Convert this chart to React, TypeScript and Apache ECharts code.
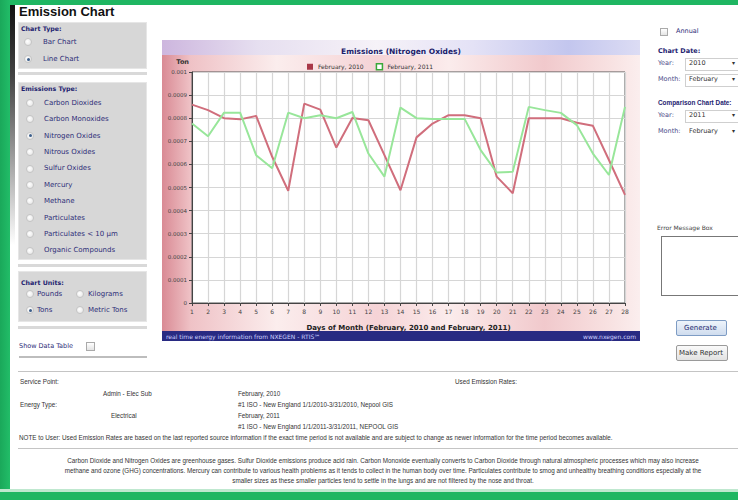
import React, { useEffect, useRef } from "react";
import * as echarts from "echarts";

const days = ["1","2","3","4","5","6","7","8","9","10","11","12","13","14","15","16","17","18","19","20","21","22","23","24","25","26","27","28"];
const feb2010 = [0.000859,0.000835,0.0008,0.000795,0.00081,0.000633,0.000486,0.000863,0.000837,0.000673,0.000801,0.000791,0.00064,0.000488,0.000717,0.000777,0.000813,0.000813,0.0008,0.000547,0.000475,0.0008,0.0008,0.0008,0.00078,0.000767,0.000619,0.000468];
const feb2011 = [0.000777,0.000722,0.000824,0.000824,0.00064,0.000583,0.000824,0.0008,0.000813,0.0008,0.000827,0.000647,0.000547,0.000846,0.0008,0.000797,0.000797,0.000797,0.000662,0.000565,0.000568,0.000849,0.000835,0.000823,0.00077,0.000647,0.000554,0.000849];
const seriesNames = ["February, 2010", "February, 2011"];
const emissionTypes = ["Carbon Dioxides","Carbon Monoxides","Nitrogen Oxides","Nitrous Oxides","Sulfur Oxides","Mercury","Methane","Particulates","Particulates < 10 \u03bcm","Organic Compounds"];

const SANS = "'Liberation Sans', Arial, sans-serif";
const VERD = "'DejaVu Sans', Verdana, sans-serif";
const NAVY = "#2e2e78";

function T(props: any) {
  const { x, y, size = 7, color = "#333", bold, family = SANS, children, style } = props;
  return (
    <div style={{ position: "absolute", left: x, top: y - size * 0.6, fontSize: size, lineHeight: size * 1.2 + "px", whiteSpace: "nowrap", color, fontWeight: bold ? "bold" : "normal", fontFamily: family, ...style }}>
      {children}
    </div>
  );
}

function Box(props: any) {
  const { x, y, w, h, style } = props;
  return <div style={{ position: "absolute", left: x, top: y, width: w, height: h, boxSizing: "border-box", ...style }} />;
}

function Radio(props: any) {
  const { x, y, on } = props;
  return (
    <div style={{ position: "absolute", left: x, top: y - 4, width: 8, height: 8, borderRadius: 4, boxSizing: "border-box", border: "1px solid #c4c4c4", background: "radial-gradient(circle at 40% 40%, #ffffff, #e2e2e2)" }}>
      {on ? <div style={{ position: "absolute", left: 1.5, top: 1.5, width: 3, height: 3, borderRadius: 2, background: "#3d5f8a" }} /> : null}
    </div>
  );
}

function Chart() {
  const ref = useRef<HTMLDivElement>(null);
  useEffect(() => {
    if (!ref.current) return;
    const chart = echarts.init(ref.current, undefined, { renderer: "svg" });
    chart.setOption({
      animation: false,
      backgroundColor: "transparent",
      title: {
        text: "Emissions (Nitrogen Oxides)",
        left: "center",
        top: 2,
        textStyle: { fontSize: 7.5, fontWeight: "bold", color: "#1c1c6a", fontFamily: VERD },
      },
      legend: {
        left: 140,
        top: 18,
        itemWidth: 6,
        itemHeight: 6,
        itemGap: 12,
        textStyle: { fontSize: 6, color: "#333", fontFamily: VERD },
        data: [
          { name: seriesNames[0], icon: "rect", itemStyle: { color: "#a83848" } },
          { name: seriesNames[1], icon: "rect", itemStyle: { color: "#ffffff", borderColor: "#3aa83a", borderWidth: 1.5 } },
        ],
      },
      grid: { left: 30, right: 15, top: 32, bottom: 38, show: true, backgroundColor: "#ffffff", borderColor: "#555", borderWidth: 1 },
      xAxis: {
        type: "category",
        data: days,
        boundaryGap: false,
        name: "Days of Month (February, 2010 and February, 2011)",
        nameLocation: "middle",
        nameGap: 21,
        nameTextStyle: { fontSize: 7, fontWeight: "bold", color: "#222", fontFamily: VERD },
        axisLine: { lineStyle: { color: "#444" } },
        axisTick: { show: true, length: 3, lineStyle: { color: "#444" } },
        axisLabel: { fontSize: 6, color: "#444", margin: 5, interval: 0, fontFamily: VERD },
        splitLine: { show: true, lineStyle: { color: "#d6d6d6", width: 1.2 } },
      },
      yAxis: {
        type: "value",
        min: 0,
        max: 0.001,
        interval: 0.0001,
        name: "Ton",
        nameLocation: "end",
        nameGap: 7,
        nameTextStyle: { fontSize: 6.5, fontWeight: "bold", color: "#333", align: "right", padding: [0, 3, 0, 0], fontFamily: VERD },
        axisLine: { show: true, lineStyle: { color: "#444" } },
        axisTick: { show: true, length: 3, lineStyle: { color: "#444" } },
        axisLabel: { fontSize: 5.5, color: "#444", margin: 5, fontFamily: VERD, formatter: (v: number) => (v === 0 ? "0" : String(+v.toFixed(4))) },
        splitLine: { show: true, lineStyle: { color: "#d6d6d6", width: 1.2 } },
      },
      series: [
        { name: seriesNames[0], type: "line", data: feb2010, symbol: "none", lineStyle: { color: "#d06e7c", width: 2 }, itemStyle: { color: "#a83848" } },
        { name: seriesNames[1], type: "line", data: feb2011, symbol: "none", lineStyle: { color: "#98e69a", width: 2 }, itemStyle: { color: "#3aa83a" } },
      ],
      graphic: [
        { type: "rect", shape: { x: 0, y: 291, width: 478, height: 10 }, style: { fill: "#282a82" } },
        { type: "text", x: 4, y: 296, style: { text: "real time energy information from NXEGEN - RTIS\u2120", fill: "#cdd2ff", fontSize: 6, fontFamily: VERD, verticalAlign: "middle" } },
        { type: "text", x: 474, y: 296, style: { text: "www.nxegen.com", fill: "#cdd2ff", fontSize: 6, fontFamily: VERD, verticalAlign: "middle", align: "right" } },
      ],
    });
    return () => chart.dispose();
  }, []);
  return (
    <div
      ref={ref}
      style={{
        position: "absolute",
        left: 162,
        top: 40,
        width: 478,
        height: 301,
        background:
          "linear-gradient(to right, #cdb6de 0%, #e6dff0 20%, #f6f2f8 45%, #e4e2f6 65%, #c3c6ee 85%, #dcdcf4 100%) top / 100% 15px no-repeat, linear-gradient(to right, #d98a94 0%, #efc2c6 6%, #fbeded 24%, #f5d3d6 45%, #fbecec 60%, #f1c9cc 80%, #f8e2e2 94%, #fbeeee 100%)",
      }}
    />
  );
}

export default function App() {
  return (
    <div style={{ position: "fixed", left: 0, top: 0, width: 738, height: 500, overflow: "hidden", background: "#ffffff", fontFamily: SANS }}>
      {/* green frame */}
      <Box x={0} y={0} w={738} h={5} style={{ background: "#1fb662" }} />
      <Box x={0} y={0} w={10} h={500} style={{ background: "linear-gradient(to right, #1aa85a, #22bd68)" }} />
      <Box x={10} y={5} w={5} h={240} style={{ background: "linear-gradient(to bottom, #111 0%, #444 30%, rgba(255,255,255,0) 100%)" }} />
      <Box x={0} y={489} w={738} h={3} style={{ background: "#bfe8cf" }} />
      <Box x={0} y={492} w={738} h={8} style={{ background: "#1fb662" }} />

      <T x={19} y={12} size={13} bold color="#111">Emission Chart</T>

      {/* Chart type panel */}
      <Box x={18} y={22} w={129} h={47} style={{ background: "#d7d7d7", border: "1px solid #e6e6e6" }} />
      <T x={21} y={29} size={6.3} bold color="#1e2370" family={VERD}>Chart Type:</T>
      <Radio x={24} y={42} />
      <T x={43} y={42} size={7} color={NAVY} family={VERD}>Bar Chart</T>
      <Radio x={24} y={59} on />
      <T x={43} y={59} size={7} color={NAVY} family={VERD}>Line Chart</T>
      <Box x={18} y={72} w={129} h={3} style={{ background: "#d9d9d9" }} />

      {/* Emission type panel */}
      <Box x={18} y={82} w={129} h={178} style={{ background: "#d7d7d7", border: "1px solid #e6e6e6" }} />
      <T x={21} y={89} size={6.3} bold color="#1e2370" family={VERD}>Emissions Type:</T>
      {emissionTypes.map((t, i) => (
        <React.Fragment key={t}>
          <Radio x={26} y={103 + i * 16.4} on={i === 2} />
          <T x={44} y={103 + i * 16.4} size={7} color={NAVY} family={VERD}>{t}</T>
        </React.Fragment>
      ))}
      <Box x={18} y={264} w={129} h={3} style={{ background: "#d9d9d9" }} />

      {/* Units panel */}
      <Box x={18} y={271} w={129} h={51} style={{ background: "#d7d7d7", border: "1px solid #e6e6e6" }} />
      <T x={21} y={283} size={6.3} bold color="#1e2370" family={VERD}>Chart Units:</T>
      <Radio x={26} y={294} />
      <T x={37} y={294} size={7} color={NAVY} family={VERD}>Pounds</T>
      <Radio x={76} y={294} />
      <T x={88} y={294} size={7} color={NAVY} family={VERD}>Kilograms</T>
      <Radio x={26} y={310} on />
      <T x={37} y={310} size={7} color={NAVY} family={VERD}>Tons</T>
      <Radio x={76} y={310} />
      <T x={88} y={310} size={7} color={NAVY} family={VERD}>Metric Tons</T>
      <Box x={18} y={326} w={129} h={3} style={{ background: "#d9d9d9" }} />

      <T x={19} y={347} size={6.5} color={NAVY} family={VERD}>Show Data Table</T>
      <Box x={86} y={342} w={9} h={9} style={{ border: "1px solid #aaa", background: "linear-gradient(#fff, #e4e4e4)" }} />
      <Box x={19} y={356} w={128} h={2} style={{ background: "#bdbdbd" }} />

      <Chart />

      {/* right side */}
      <Box x={660} y={28} w={8} h={8} style={{ border: "1px solid #aaa", background: "linear-gradient(#fff, #e4e4e4)" }} />
      <T x={676} y={32} size={6.5} color={NAVY} family={VERD}>Annual</T>
      <T x={658} y={52} size={6.5} bold color="#1e2370" family={VERD}>Chart Date:</T>
      <T x={658} y={64} size={6.5} color="#4a4a88" family={VERD}>Year:</T>
      <Box x={685} y={58} w={60} h={13} style={{ border: "1px solid #cfcfcf", background: "#fff" }} />
      <T x={689} y={64} size={6.5} color="#333" family={VERD}>2010</T>
      <T x={732} y={64} size={6} color="#333">{"\u25be"}</T>
      <T x={658} y={80} size={6.5} color="#4a4a88" family={VERD}>Month:</T>
      <Box x={685} y={74} w={60} h={13} style={{ border: "1px solid #cfcfcf", background: "#fff" }} />
      <T x={689} y={80} size={6.5} color="#333" family={VERD}>February</T>
      <T x={732} y={80} size={6} color="#333">{"\u25be"}</T>
      <T x={658} y={103} size={6.4} bold color="#1e2370" family={SANS}>Comparison Chart Date:</T>
      <T x={658} y={116} size={6.5} color="#4a4a88" family={VERD}>Year:</T>
      <Box x={685} y={110} w={60} h={13} style={{ border: "1px solid #cfcfcf", background: "#fff" }} />
      <T x={689} y={116} size={6.5} color="#333" family={VERD}>2011</T>
      <T x={732} y={116} size={6} color="#333">{"\u25be"}</T>
      <T x={658} y={132} size={6.5} color="#4a4a88" family={VERD}>Month:</T>
      <T x={689} y={132} size={6.5} color="#333" family={VERD}>February</T>
      <T x={732} y={132} size={6} color="#333">{"\u25be"}</T>
      <T x={657} y={228} size={6} color="#444" family={VERD}>Error Message Box</T>
      <Box x={661} y={236} w={90} h={60} style={{ border: "1px solid #777", background: "#fff" }} />
      <Box x={676} y={320} w={51} h={16} style={{ border: "1px solid #7e9cc4", borderRadius: 2, background: "linear-gradient(#eef4fb, #cfdcee)" }} />
      <T x={684} y={328} size={7} color="#1e2a70" family={VERD}>Generate</T>
      <Box x={676} y={345} w={52} h={16} style={{ border: "1px solid #9a9a9a", borderRadius: 2, background: "linear-gradient(#fafafa, #e2e2e2)" }} />
      <T x={679} y={353} size={7} color="#333" family={VERD}>Make Report</T>

      {/* bottom info */}
      <Box x={18} y={371} w={720} h={1} style={{ background: "#c4c4c4" }} />
      <T x={20} y={382} size={6.3} color="#333">Service Point:</T>
      <T x={103} y={394} size={6.3} color="#333">Admin - Elec Sub</T>
      <T x={238} y={394} size={6.3} color="#333">February, 2010</T>
      <T x={455} y={382} size={6.3} color="#333">Used Emission Rates:</T>
      <T x={20} y={405} size={6.3} color="#333">Energy Type:</T>
      <T x={238} y={405} size={6.3} color="#333">#1 ISO - New England 1/1/2010-3/31/2010, Nepool GIS</T>
      <T x={111} y={416} size={6.3} color="#333">Electrical</T>
      <T x={238} y={416} size={6.3} color="#333">February, 2011</T>
      <T x={238} y={427} size={6.3} color="#333">#1 ISO - New England 1/1/2011-3/31/2011, NEPOOL GIS</T>
      <T x={19} y={438} size={6.3} color="#333">NOTE to User: Used Emission Rates are based on the last reported source information if the exact time period is not available and are subject to change as newer information for the time period becomes available.</T>
      <Box x={18} y={448} w={720} h={1} style={{ background: "#c4c4c4" }} />
      <div style={{ position: "absolute", left: 18, top: 456, width: 730, textAlign: "center", fontSize: 6.3, lineHeight: "10px", color: "#333", whiteSpace: "nowrap" }}>
        Carbon Dioxide and Nitrogen Oxides are greenhouse gases. Sulfur Dioxide emissions produce acid rain. Carbon Monoxide eventually converts to Carbon Dioxide through natural atmospheric processes which may also increase
        <br />
        methane and ozone (GHG) concentrations. Mercury can contribute to various health problems as it tends to collect in the human body over time. Particulates contribute to smog and unhealthy breathing conditions especially at the
        <br />
        smaller sizes as these smaller particles tend to settle in the lungs and are not filtered by the nose and throat.
      </div>
    </div>
  );
}
